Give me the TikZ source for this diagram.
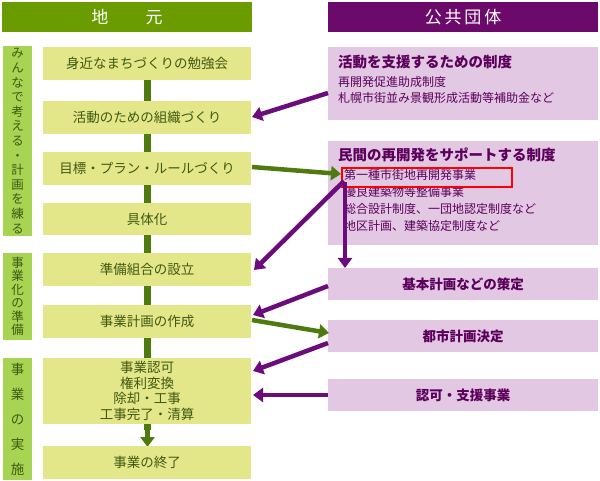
\documentclass[tikz,border=0pt]{standalone}
\usepackage{fontspec}
\setmainfont{Noto Sans CJK JP}
\usetikzlibrary{arrows.meta}
\definecolor{hg}{HTML}{6A9C00}
\definecolor{hp}{HTML}{6C0A6C}
\definecolor{sg}{HTML}{A8D454}
\definecolor{bg}{HTML}{E4E68A}
\definecolor{bp}{HTML}{E2C8E2}
\definecolor{tg}{HTML}{3E5A10}
\definecolor{tp}{HTML}{5C005C}
\definecolor{ag}{HTML}{4E7A10}
\definecolor{ap}{HTML}{6C0C7C}
\lineskiplimit=-100pt
\begin{document}
\begin{tikzpicture}[x=1pt,y=-1pt,
  every node/.append style={execute at begin node={\lineskiplimit=-100pt\lineskip=0pt}},
  lbox/.style={text=tg,font=\fontsize{13.5}{15.5}\selectfont},
  side/.style={text=tg,font=\fontsize{12.5}{14.6}\selectfont,align=center,inner sep=0pt},
  garr/.style={draw=ag,line width=4.5pt,-{Triangle[length=10pt,width=14pt]}},
  parr/.style={draw=ap,line width=4.5pt,-{Triangle[length=10pt,width=14pt]}}]
\useasboundingbox (0,0) rectangle (600,481);
\fill[white] (0,0) rectangle (600,481);
% headers
\fill[hg] (2,2) rectangle (252,32);
\node[text=white,font=\fontsize{17}{18}\selectfont] (h1) at (127,17) {地\hspace{2.2em}元};
\fill[hp] (328,2) rectangle (598,32);
\node[text=white,font=\fontsize{17}{18}\selectfont] (h2) at (463,17) {公\,共\,団\,体};
% side labels
\fill[sg] (3,46) rectangle (32,236);
\node[side] (s1) at (17.5,141) {み\\ん\\な\\で\\考\\え\\る\\・\\計\\画\\を\\練\\る};
\fill[sg] (3,253) rectangle (32,340);
\node[side,font=\fontsize{12.5}{13.5}\selectfont] (s2) at (17.5,296.5) {事\\業\\化\\の\\準\\備};
\fill[sg] (3,358) rectangle (32,480);
\node[side,font=\fontsize{13.5}{25}\selectfont] (s3) at (17.5,419) {事\\業\\の\\実\\施};
% green trunk
\fill[ag] (144,80) rectangle (151,430);
\draw[garr] (147.5,425) -- (147.5,447);
% left boxes
\foreach \n/\a/\b/\t in {b1/47/80/身近なまちづくりの勉強会,b2/101/134/活動のための組織づくり,b3/152/185/目標・プラン・ルールづくり,b4/203/235/具体化,b5/253/286/準備組合の設立,b6/305/338/事業計画の作成,b8/446/479/事業の終了}{
  \fill[bg] (43,\a) rectangle (251,\b);
  \node[lbox] (\n) at (147,{(\a+\b)/2}) {\t};
}
\fill[bg] (43,358) rectangle (251,424);
\node[lbox,align=center] (b7) at (147,391) {事業認可\\権利変換\\除却・工事\\工事完了・清算};
% right boxes
\fill[bp] (328,47) rectangle (598,120);
\node[text=tp,anchor=north west,align=left,inner sep=0pt,font=\fontsize{12}{16}\selectfont] (rA) at (338,55)
 {{\fontsize{14.5}{16}\selectfont\bfseries 活動を支援するための制度}\\[3pt]再開発促進助成制度\\札幌市街並み景観形成活動等補助金など};
\fill[bp] (328,141) rectangle (598,245);
\node[text=tp,anchor=north west,align=left,inner sep=0pt,font=\fontsize{12}{17}\selectfont] (rB) at (338,148)
 {{\fontsize{14.5}{16}\selectfont\bfseries 民間の再開発をサポートする制度}\\[2pt]\hspace{6pt}第一種市街地再開発事業\\\hspace{6pt}優良建築物等整備事業\\\hspace{6pt}総合設計制度、一団地認定制度など\\\hspace{6pt}地区計画、建築協定制度など};
\draw[red,line width=1.6pt] (342,168) rectangle (512,187);
\fill[bp] (328,268) rectangle (598,300);
\node[text=tp,font=\fontsize{13.5}{15}\selectfont\bfseries] (rC) at (463,284) {基本計画などの策定};
\fill[bp] (328,320) rectangle (598,352);
\node[text=tp,font=\fontsize{13.5}{15}\selectfont\bfseries] (rD) at (463,336) {都市計画決定};
\fill[bp] (328,379) rectangle (598,411);
\node[text=tp,font=\fontsize{13.5}{15}\selectfont\bfseries] (rE) at (463,395) {認可・支援事業};
% arrows
\draw[parr] (328,93) -- (252,117);
\draw[garr] (252,167) -- (341,174);
\draw[parr] (344,181) -- (254,270);
\draw[parr] (345,182) -- (345,268);
\draw[parr] (328,286) -- (253,315);
\draw[garr] (252,320) -- (329,333);
\draw[parr] (328,343) -- (253,371);
\draw[parr] (328,395) -- (253,395);
\end{tikzpicture}
\end{document}
